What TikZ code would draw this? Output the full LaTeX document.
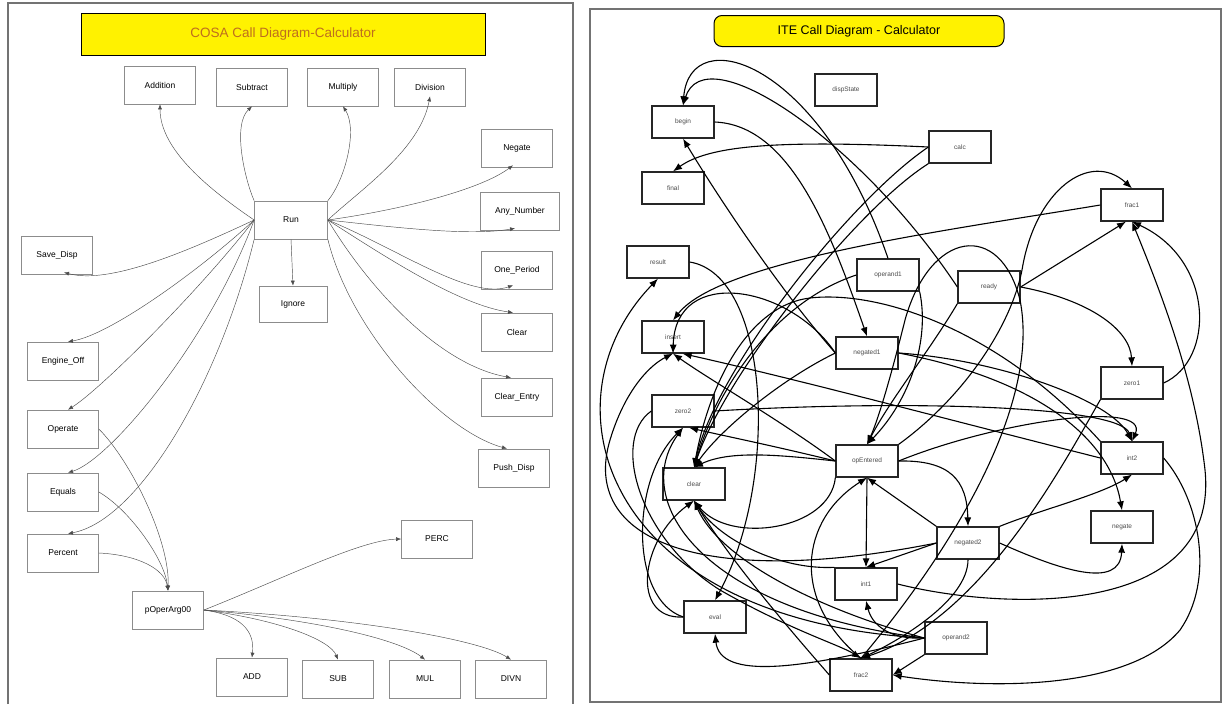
\documentclass[tikz,border=0pt]{standalone}
\usepackage{fontspec}
\setmainfont{Liberation Sans}
\usetikzlibrary{arrows.meta}
\definecolor{titlebrown}{RGB}{190,110,30}
\tikzset{
  lbox/.style={draw=black!45, line width=0.7pt, fill=white, minimum width=71pt, minimum height=38pt, inner sep=0pt, font=\fontsize{8.5}{10}\selectfont},
  rbox/.style={draw=black!85, line width=1.3pt, fill=white, minimum width=62pt, minimum height=32pt, inner sep=0pt, font=\fontsize{6.5}{8}\selectfont, text=black!70},
  ledge/.style={draw=black!70, line width=0.45pt, -{Latex[length=5pt,width=4pt]}},
  redge/.style={draw=black, line width=1.1pt, -{Latex[length=9pt,width=7pt]}},
  frameline/.style={draw=black!55, line width=1.2pt}
}
\begin{document}
\begin{tikzpicture}[x=1pt,y=-1pt]
\useasboundingbox (0,0) rectangle (1223,704);
\fill[white] (0,0) rectangle (1223,704);
% frames
\draw[frameline] (8,704) -- (8,3) -- (573,3) -- (573,704);
\draw[frameline] (590,9) rectangle (1221,702);

% ===== Left panel =====
\node[draw=black, line width=1pt, fill=yellow, minimum width=404pt, minimum height=42pt, font=\fontsize{13.5}{15}\selectfont, text=titlebrown] (ltitle) at (283,34) {COSA Call Diagram-Calculator};
\node[lbox] (addition) at (160,85) {Addition};
\node[lbox] (subtract) at (252,87) {Subtract};
\node[lbox] (multiply) at (343,87) {Multiply};
\node[lbox] (division) at (430,87) {Division};
\node[lbox] (negateL) at (517,148) {Negate};
\node[lbox, minimum width=79pt] (anynum) at (520,211) {Any\_Number};
\node[lbox, minimum width=73pt] (run) at (291,220) {Run};
\node[lbox] (savedisp) at (57,255) {Save\_Disp};
\node[lbox] (oneperiod) at (517,270) {One\_Period};
\node[lbox, minimum width=68pt, minimum height=36pt] (ignore) at (293,304) {Ignore};
\node[lbox] (clearL) at (517,332) {Clear};
\node[lbox] (engineoff) at (63,361) {Engine\_Off};
\node[lbox] (clearentry) at (517,397) {Clear\_Entry};
\node[lbox] (operate) at (63,429) {Operate};
\node[lbox] (pushdisp) at (514,468) {Push\_Disp};
\node[lbox] (equals) at (63,492) {Equals};
\node[lbox] (perc) at (437,539) {PERC};
\node[lbox] (percent) at (63,553) {Percent};
\node[lbox] (poper) at (168,610) {pOperArg00};
\node[lbox] (add) at (252,677) {ADD};
\node[lbox] (sub) at (338,679) {SUB};
\node[lbox] (mul) at (425,679) {MUL};
\node[lbox] (divn) at (511,679) {DIVN};

\begin{scope}[every path/.style={ledge}]
\draw (run.west) .. controls (210,190) and (160,150) .. (addition.south);
\draw (run.north west) .. controls (245,180) and (232,125) .. (subtract.south);
\draw (run.north east) .. controls (345,180) and (358,130) .. (multiply.south);
\draw (run.east) .. controls (360,190) and (420,150) .. ([yshift=10pt]division.south);
\draw (run.east) .. controls (400,210) and (480,190) .. ([xshift=-4pt,yshift=2pt]negateL.south);
\draw (run.east) .. controls (400,228) and (470,236) .. ([xshift=-5pt,yshift=2pt]anynum.south);
\draw (run.east) .. controls (400,250) and (470,300) .. ([xshift=-4pt,yshift=4pt]oneperiod.south);
\draw (run.east) .. controls (390,260) and (460,305) .. ([xshift=-4pt]clearL.north);
\draw (run.east) .. controls (370,290) and (440,365) .. ([xshift=-6pt]clearentry.north);
\draw (run.south east) .. controls (350,330) and (440,430) .. ([xshift=-7pt]pushdisp.north);
\draw (run.south) -- (ignore.north);
\draw (run.west) .. controls (190,250) and (110,285) .. ([xshift=7pt,yshift=2pt]savedisp.south);
\draw (run.west) .. controls (200,270) and (110,335) .. ([xshift=5pt]engineoff.north);
\draw (run.west) .. controls (200,290) and (100,390) .. ([xshift=5pt]operate.north);
\draw (run.west) .. controls (210,340) and (110,460) .. ([xshift=5pt]equals.north);
\draw (run.south west) .. controls (220,380) and (140,520) .. ([xshift=5pt]percent.north);
\draw (operate.east) .. controls (130,460) and (170,540) .. (poper.north);
\draw (equals.east) .. controls (130,510) and (165,560) .. (poper.north);
\draw (percent.east) .. controls (140,555) and (165,570) .. (poper.north);
\draw (poper.east) .. controls (280,580) and (360,540) .. (perc.west);
\draw (poper.east) .. controls (240,615) and (255,630) .. (add.north);
\draw (poper.east) .. controls (280,620) and (330,640) .. (sub.north);
\draw (poper.east) .. controls (320,620) and (400,640) .. (mul.north);
\draw (poper.east) .. controls (360,618) and (480,640) .. (divn.north);
\end{scope}

% ===== Right panel =====
\node[draw=black, line width=1pt, fill=yellow, rounded corners=8pt, minimum width=290pt, minimum height=31pt, font=\fontsize{12.5}{14}\selectfont] (rtitle) at (859,31) {ITE Call Diagram - Calculator};
\node[rbox] (dispstate) at (846,90) {dispState};
\node[rbox] (begin) at (683,122) {begin};
\node[rbox] (calc) at (960,147) {calc};
\node[rbox] (final) at (673,188) {final};
\node[rbox] (frac1) at (1132,205) {frac1};
\node[rbox] (result) at (658,262) {result};
\node[rbox] (operand1) at (888,275) {operand1};
\node[rbox] (ready) at (989,287) {ready};
\node[rbox] (insert) at (673,337) {insert};
\node[rbox] (negated1) at (867,353) {negated1};
\node[rbox] (zero1) at (1132,383) {zero1};
\node[rbox] (zero2) at (683,411) {zero2};
\node[rbox] (opentered) at (867,461) {opEntered};
\node[rbox] (int2) at (1132,458) {int2};
\node[rbox] (clear) at (694,484) {clear};
\node[rbox] (negate) at (1122,527) {negate};
\node[rbox] (negated2) at (968,543) {negated2};
\node[rbox] (int1) at (866,584) {int1};
\node[rbox] (eval) at (715,617) {eval};
\node[rbox] (operand2) at (956,638) {operand2};
\node[rbox] (frac2) at (861,675) {frac2};

\begin{scope}[every path/.style={redge}]
\draw (operand1.north) .. controls (820,60) and (690,20) .. (begin.north);
\draw (ready.west) .. controls (860,140) and (705,35) .. (begin.north);
\draw (begin.east) .. controls (790,125) and (830,230) .. (negated1.north);
\draw (negated1.west) .. controls (780,290) and (720,200) .. (begin.south);
\draw (calc.west) .. controls (780,140) and (710,145) .. (final.north);
\draw (calc.west) .. controls (850,200) and (715,370) .. (clear.north);
\draw (calc.south west) .. controls (855,210) and (725,375) .. (clear.north);
\draw (frac1.west) .. controls (950,230) and (720,260) .. (insert.north);
\draw (result.east) .. controls (770,275) and (780,480) .. (eval.north);
\draw (operand2.west) .. controls (600,620) and (540,400) .. (result.south);
\draw (negated1.west) .. controls (790,285) and (675,265) .. (insert.south);
\draw (int2.west) .. controls (950,420) and (800,380) .. (insert.-60);
\draw (opentered.west) .. controls (780,420) and (710,380) .. (insert.south);
\draw (opentered.west) .. controls (770,445) and (720,435) .. (zero2.-70);
\draw (opentered.west) .. controls (780,455) and (730,450) .. (clear.north);
\draw (negated1.west) .. controls (780,380) and (720,430) .. (clear.north);
\draw (opentered.south west) .. controls (830,530) and (730,545) .. (clear.south);
\draw (eval.west) .. controls (630,620) and (640,540) .. (clear.south);
\draw (zero2.east) .. controls (900,400) and (1120,405) .. (int2.north);
\draw (negated1.east) .. controls (1000,360) and (1110,400) .. (int2.north);
\draw (opentered.east) .. controls (1000,420) and (1150,400) .. (int2.north);
\draw (opentered.east) .. controls (950,460) and (967,480) .. (negated2.north);
\draw (negated2.north east) .. controls (1040,510) and (1100,495) .. (int2.south);
\draw (negated2.east) .. controls (1060,570) and (1120,590) .. (negate.south);
\draw (negated1.east) .. controls (1040,380) and (1110,440) .. (negate.north);
\draw (int2.north west) .. controls (1000,330) and (880,290) .. (810,298) .. controls (750,305) and (710,380) .. (clear.north);
\draw (zero1.east) .. controls (1215,360) and (1215,260) .. (frac1.south);
\draw (ready.east) -- (frac1.-110);
\draw (ready.east) .. controls (1090,300) and (1130,330) .. (zero1.north);
\draw (opentered.north east) .. controls (960,400) and (1010,330) .. (1022,270) .. controls (1035,190) and (1090,150) .. (frac1.north);
\draw (int1.east) .. controls (1000,610) and (1220,620) .. (1205,470) .. controls (1195,380) and (1160,290) .. (frac1.south);
\draw (int2.east) .. controls (1200,500) and (1215,580) .. (1180,630) .. controls (1130,690) and (990,690) .. (frac2.east);
\draw (operand2.south west) -- (frac2.east);
\draw (operand2.west) .. controls (890,640) and (872,625) .. (int1.south);
\draw (operand2.west) .. controls (800,670) and (720,680) .. (eval.south);
\draw (operand2.west) .. controls (820,610) and (720,560) .. (clear.south);
\draw (operand2.west) .. controls (700,610) and (630,500) .. (zero2.south);
\draw (negated2.west) .. controls (700,590) and (580,540) .. (610,440) .. controls (625,390) and (650,365) .. (insert.south);
\draw (negated2.west) -- (int1.north);
\draw (opentered.south) -- (int1.north);
\draw (negated2.north west) -- (opentered.south);
\draw (frac2.north) .. controls (790,600) and (800,520) .. (opentered.south);
\draw (zero2.west) .. controls (610,440) and (640,540) .. (720,590) .. controls (790,630) and (840,645) .. (frac2.north);
\draw (frac2.west) .. controls (790,630) and (730,560) .. (clear.south);
\draw (eval.west) .. controls (630,600) and (630,480) .. (zero2.south);
\draw (operand1.west) .. controls (780,300) and (720,380) .. (clear.north);
\draw (operand1.south east) .. controls (930,340) and (910,400) .. (opentered.north);
\draw (ready.south west) .. controls (930,350) and (890,400) .. (opentered.north);
\draw (frac2.north) .. controls (960,540) and (1040,400) .. (1020,300) .. controls (1000,220) and (930,230) .. (905,320) .. controls (890,380) and (878,420) .. (opentered.north);
\draw (negated2.south) .. controls (968,600) and (900,640) .. (frac2.north);
\draw (zero1.south west) .. controls (1060,470) and (980,620) .. (frac2.north);
\draw (int1.north west) .. controls (780,570) and (720,540) .. (clear.south);
\end{scope}
\end{tikzpicture}
\end{document}
